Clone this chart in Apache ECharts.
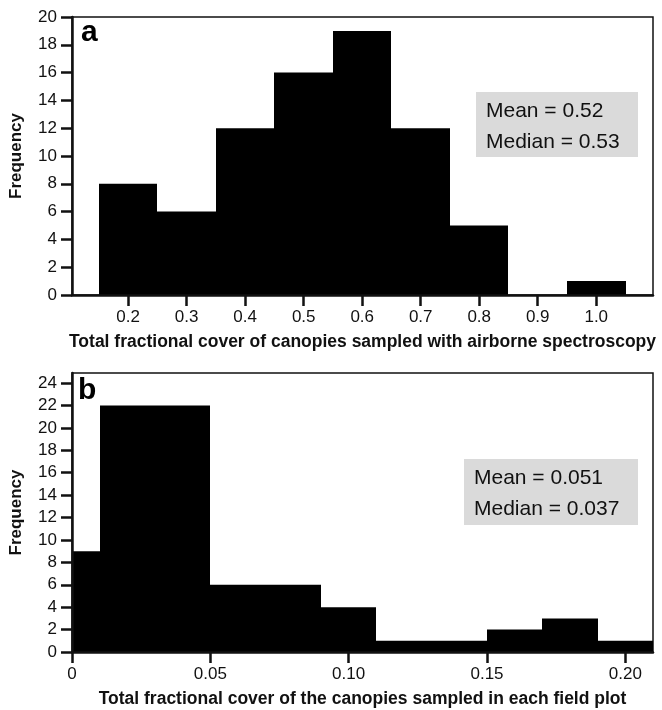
<!DOCTYPE html>
<html>
<head>
<meta charset="utf-8">
<script src="https://cdn.jsdelivr.net/npm/echarts@6/dist/echarts.min.js"></script>
<style>
  html, body { margin: 0; padding: 0; background: #fff; }
  #chart { width: 662px; height: 710px; }
</style>
</head>
<body>
<div id="chart"></div>
<script>
// panel a: airborne spectroscopy
const edgesA = [0.15, 0.25, 0.35, 0.45, 0.55, 0.65, 0.75, 0.85, 0.95, 1.05];
const countsA = [8, 6, 12, 16, 19, 12, 5, 0, 1];
const xTicksA = [0.2, 0.3, 0.4, 0.5, 0.6, 0.7, 0.8, 0.9, 1.0];
const yTicksA = [0, 2, 4, 6, 8, 10, 12, 14, 16, 18, 20];

// panel b: field plots
const edgesB = [0, 0.01, 0.03, 0.05, 0.07, 0.09, 0.11, 0.13, 0.15, 0.17, 0.19, 0.21];
const countsB = [9, 22, 22, 6, 6, 4, 1, 1, 2, 3, 1];
const xTicksB = [0, 0.05, 0.10, 0.15, 0.20];
const yTicksB = [0, 2, 4, 6, 8, 10, 12, 14, 16, 18, 20, 22, 24];

const statsA = ['Mean = 0.52', 'Median = 0.53'];
const statsB = ['Mean = 0.051', 'Median = 0.037'];

const FONT = '"Liberation Sans", Arial, Helvetica, sans-serif';
const INK = '#111';

const toBins = (edges, counts) => counts.map((c, i) => [edges[i], edges[i + 1], c]);

function renderBin(params, api) {
  const p0 = api.coord([api.value(0), 0]);
  const p1 = api.coord([api.value(1), api.value(2)]);
  // snap to whole pixels so neighbouring bins don't show seams
  const x0 = Math.round(p0[0]);
  const x1 = Math.round(p1[0]);
  return {
    type: 'rect',
    shape: { x: x0, y: p1[1], width: x1 - x0, height: p0[1] - p1[1] },
    style: { fill: '#000' }
  };
}

const axisLine = { show: true, lineStyle: { color: INK, width: 2.5 } };
const tickStyle = { color: INK, width: 2.5 };

function xAxis(idx, min, max, ticks, fmt, name) {
  return {
    type: 'value',
    gridIndex: idx,
    min: min,
    max: max,
    z: 5,
    axisLine: axisLine,
    axisTick: { show: true, length: 11, lineStyle: tickStyle, customValues: ticks },
    axisLabel: { fontFamily: FONT, fontSize: 17, color: INK, margin: 14, customValues: ticks, formatter: fmt },
    splitLine: { show: false },
    name: name,
    nameLocation: 'middle',
    nameGap: 38,
    nameTextStyle: { fontFamily: FONT, fontSize: 17.5, fontWeight: 'bold', color: INK }
  };
}

function yAxis(idx, max, ticks) {
  return {
    type: 'value',
    gridIndex: idx,
    min: 0,
    max: max,
    z: 5,
    axisLine: axisLine,
    axisTick: { show: true, length: 11, lineStyle: tickStyle, customValues: ticks },
    axisLabel: { fontFamily: FONT, fontSize: 17, color: INK, margin: 15, customValues: ticks },
    splitLine: { show: false },
    name: 'Frequency',
    nameLocation: 'middle',
    nameGap: 47,
    nameTextStyle: { fontFamily: FONT, fontSize: 17, fontWeight: 'bold', color: INK }
  };
}

function statBox(x, y, w, h, lines) {
  return {
    type: 'group',
    children: [
      { type: 'rect', shape: { x: x, y: y, width: w, height: h }, style: { fill: '#dadada' } },
      { type: 'text', x: x + 10, y: y + 19, style: { text: lines[0], font: '21px ' + FONT, fill: INK, verticalAlign: 'middle' } },
      { type: 'text', x: x + 10, y: y + 50, style: { text: lines[1], font: '21px ' + FONT, fill: INK, verticalAlign: 'middle' } }
    ]
  };
}

const chart = echarts.init(document.getElementById('chart'));

chart.setOption({
  animation: false,
  backgroundColor: '#fff',
  title: [
    { text: 'a', left: 81, top: 18, padding: 0, textStyle: { fontFamily: FONT, fontSize: 30, fontWeight: 'bold', color: '#000' } },
    { text: 'b', left: 78, top: 376, padding: 0, textStyle: { fontFamily: FONT, fontSize: 30, fontWeight: 'bold', color: '#000' } }
  ],
  grid: [
    { left: 72, top: 17, width: 581, height: 278, show: true, borderColor: INK, borderWidth: 1.5, containLabel: false, outerBoundsMode: 'none' },
    { left: 72, top: 373, width: 581, height: 279, show: true, borderColor: INK, borderWidth: 1.5, containLabel: false, outerBoundsMode: 'none' }
  ],
  xAxis: [
    xAxis(0, 0.104, 1.097, xTicksA, v => v.toFixed(1),
      'Total fractional cover of canopies sampled with airborne spectroscopy'),
    xAxis(1, 0, 0.21, xTicksB, v => (v === 0 ? '0' : v.toFixed(2)),
      'Total fractional cover of the canopies sampled in each field plot')
  ],
  yAxis: [
    yAxis(0, 20, yTicksA),
    yAxis(1, 24.9, yTicksB)
  ],
  series: [
    { type: 'custom', xAxisIndex: 0, yAxisIndex: 0, renderItem: renderBin, encode: { x: [0, 1], y: 2 }, data: toBins(edgesA, countsA) },
    { type: 'custom', xAxisIndex: 1, yAxisIndex: 1, renderItem: renderBin, encode: { x: [0, 1], y: 2 }, data: toBins(edgesB, countsB) }
  ],
  graphic: [
    statBox(476, 92, 162, 65, statsA),
    statBox(464, 459, 174, 66, statsB)
  ]
});
</script>
</body>
</html>
